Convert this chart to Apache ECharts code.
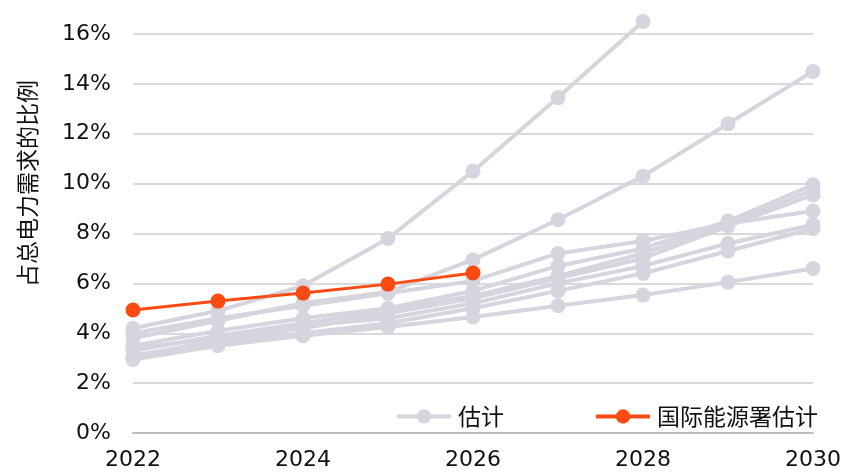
<!DOCTYPE html>
<html>
<head>
<meta charset="utf-8">
<script src="https://cdn.jsdelivr.net/npm/echarts@6/dist/echarts.min.js"></script>
<style>
html,body{margin:0;padding:0;background:#fff;}
#c{width:844px;height:474px;}
</style>
</head>
<body>
<div id="c"></div>
<script>
const years = ['2022','2023','2024','2025','2026','2027','2028','2029','2030'];
const yTickLabels = ['0%','2%','4%','6%','8%','10%','12%','14%','16%'];
const yAxisTitle = '占总电力需求的比例';
const greyName = '估计';
const ieaName = '国际能源署估计';

const est1 = [4.2, 4.9, 5.9, 7.8, 10.5, 13.45, 16.5, null, null];
const est2 = [3.8, 4.5, 5.2, 5.65, 6.95, 8.55, 10.3, 12.4, 14.5];
const est3 = [4.0, 4.6, 5.1, 5.6, 6.1, 7.2, 7.7, 8.4, 8.9];
const est4 = [3.5, 4.1, 4.6, 5.0, 5.7, 6.7, 7.4, 8.5, 9.95];
const est5 = [3.3, 3.9, 4.4, 4.9, 5.5, 6.3, 7.2, 8.4, 9.75];
const est6 = [3.1, 3.7, 4.2, 4.8, 5.4, 6.2, 7.0, 8.3, 9.55];
const est7 = [3.4, 3.8, 4.3, 4.6, 5.2, 6.0, 6.7, 7.6, 8.35];
const est8 = [3.0, 3.6, 4.0, 4.4, 5.0, 5.7, 6.4, 7.3, 8.2];
const est9 = [2.95, 3.5, 3.9, 4.25, 4.65, 5.1, 5.53, 6.05, 6.6];
const iea = [4.93, 5.29, 5.61, 5.97, 6.42, null, null, null, null];

const greySeries = [est1, est2, est3, est4, est5, est6, est7, est8, est9];

const GREY = '#d6d5de';
const ORANGE = '#ff4a14';
const FONT = '"DejaVu Sans", sans-serif';
const CJK = '"Noto Sans CJK SC", sans-serif';

const series = greySeries.map(d => ({
  name: greyName,
  type: 'line',
  data: d,
  symbol: 'circle',
  symbolSize: 15,
  clip: false,
  lineStyle: {color: GREY, width: 4},
  itemStyle: {color: GREY},
  emphasis: {disabled: true},
  z: 2
}));
series.push({
  name: ieaName,
  type: 'line',
  data: iea,
  symbol: 'circle',
  symbolSize: 15,
  clip: false,
  lineStyle: {color: ORANGE, width: 3},
  itemStyle: {color: ORANGE},
  emphasis: {disabled: true},
  z: 5
});

const chart = echarts.init(document.getElementById('c'), null, {renderer: 'canvas'});
chart.setOption({
  animation: false,
  backgroundColor: '#fff',
  textStyle: {fontFamily: FONT},
  grid: {left: 133, right: 31, top: 34, bottom: 41, containLabel: false},
  legend: {
    left: 390, top: 400,
    itemWidth: 54, itemHeight: 18,
    itemGap: 90,
    data: [greyName, ieaName],
    lineStyle: {width: 4},
    textStyle: {fontSize: 23, color: '#111', fontFamily: CJK, padding: [0,0,0,2]}
  },
  xAxis: {
    type: 'category',
    data: years,
    boundaryGap: false,
    axisLine: {show: true, lineStyle: {color: '#bdbdbd', width: 2}},
    axisTick: {show: false},
    axisLabel: {
      interval: 1,
      fontSize: 22, color: '#111', fontFamily: FONT, margin: 16
    },
    splitLine: {show: false}
  },
  yAxis: {
    type: 'value',
    min: 0, max: 16, interval: 2,
    name: yAxisTitle,
    nameLocation: 'middle',
    nameGap: 94,
    nameRotate: 90,
    nameTextStyle: {fontSize: 23, color: '#111', fontFamily: CJK, padding: [0,0,0,100]},
    axisLine: {show: false},
    axisTick: {show: false},
    axisLabel: {
      fontSize: 22, color: '#111', fontFamily: FONT, margin: 22,
      formatter: (v) => yTickLabels[Math.round(v / 2)]
    },
    splitLine: {lineStyle: {color: '#dadada', width: 2}}
  },
  series: series
});
</script>
</body>
</html>
